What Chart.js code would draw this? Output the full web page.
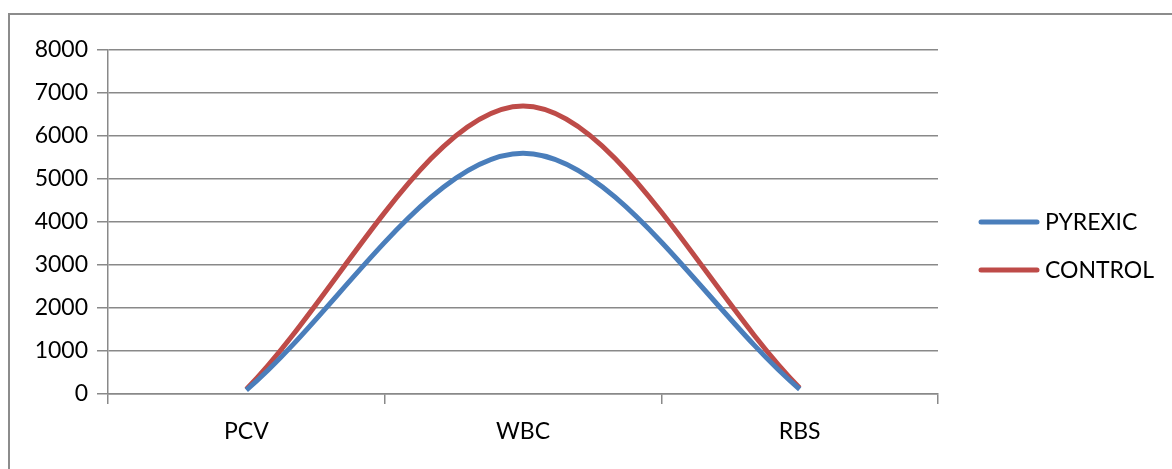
<!DOCTYPE html>
<html>
<head>
<meta charset="utf-8">
<script src="https://cdn.jsdelivr.net/npm/chart.js@4/dist/chart.umd.min.js"></script>
<style>
  html, body { margin: 0; padding: 0; background: #fff; }
  #wrap { position: relative; width: 1172px; height: 469px; overflow: hidden; }
  #frame { position: absolute; left: 8px; top: 13px; width: 1200px; height: 500px; border: 2px solid #8c8c8c; box-sizing: border-box; }
  canvas { position: absolute; left: 0; top: 0; }
</style>
</head>
<body>
<div id="wrap">
  <div id="frame"></div>
  <canvas id="c" width="1172" height="469"></canvas>
</div>
<script>
const categories = ['PCV', 'WBC', 'RBS'];
const pyrexic = [90, 5600, 110];
const control = [110, 6700, 140];
const seriesNames = ['PYREXIC', 'CONTROL'];
const seriesColors = ['#4A7EBB', '#BE4B48'];

const FONT = 'Lato, "Open Sans", sans-serif';
const GRID = '#898989';

const legendPlugin = {
  id: 'sideLegend',
  afterDraw(chart) {
    const ctx = chart.ctx;
    ctx.save();
    chart.data.datasets.forEach((ds, i) => {
      const y = 222 + i * 48;
      ctx.strokeStyle = ds.borderColor;
      ctx.lineWidth = 5;
      ctx.lineCap = 'round';
      ctx.beginPath();
      ctx.moveTo(981, y);
      ctx.lineTo(1037, y);
      ctx.stroke();
      ctx.fillStyle = '#000';
      ctx.font = '23px ' + FONT;
      ctx.textBaseline = 'middle';
      ctx.textAlign = 'left';
      ctx.fillText(ds.label, 1045, y + 1);
    });
    ctx.restore();
  }
};

new Chart(document.getElementById('c'), {
  type: 'line',
  data: {
    labels: categories,
    datasets: [
      { label: seriesNames[0], data: pyrexic, borderColor: seriesColors[0], backgroundColor: seriesColors[0] },
      { label: seriesNames[1], data: control, borderColor: seriesColors[1], backgroundColor: seriesColors[1] }
    ]
  },
  options: {
    responsive: false,
    animation: false,
    devicePixelRatio: 1,
    layout: { padding: { top: 50, right: 234, bottom: 0, left: 0 } },
    elements: {
      line: { tension: 0.33, borderWidth: 5, fill: false, borderCapStyle: 'butt' },
      point: { radius: 0 }
    },
    plugins: { legend: { display: false }, tooltip: { enabled: false } },
    scales: {
      x: {
        offset: true,
        grid: { offset: true, drawOnChartArea: false, drawTicks: true, tickLength: 10, color: GRID, lineWidth: 1.5 },
        border: { display: true, color: GRID, width: 1.5 },
        ticks: { color: '#000', font: { family: FONT, size: 23 }, padding: 14 },
        afterFit(s) { s.height = 75; }
      },
      y: {
        min: 0, max: 8000,
        ticks: { stepSize: 1000, color: '#000', font: { family: FONT, size: 23 }, padding: 9,
                 callback: (v) => String(v) },
        grid: { color: GRID, lineWidth: 1.5, tickLength: 11 },
        border: { display: true, color: GRID, width: 1.5 },
        afterFit(s) { s.width = 108; }
      }
    }
  },
  plugins: [legendPlugin]
});
</script>
</body>
</html>
